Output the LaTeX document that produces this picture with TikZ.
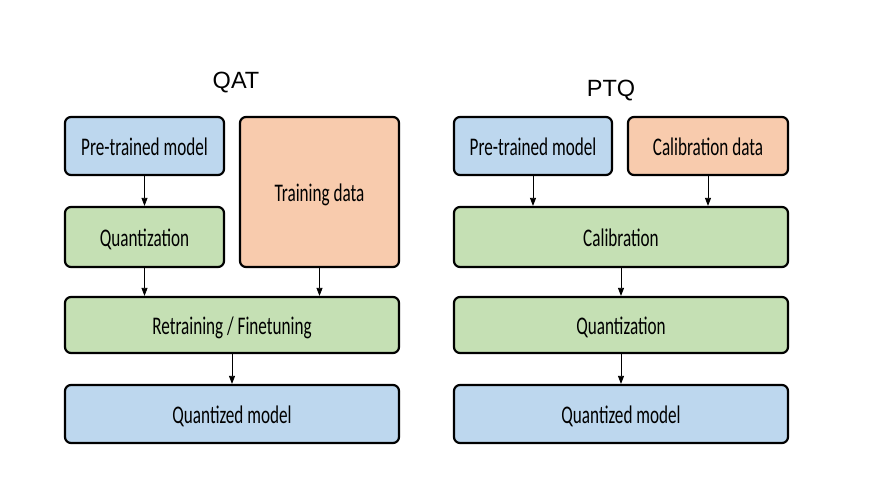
\documentclass[tikz,border=0pt]{standalone}
\usepackage{fontspec}
\setmainfont{Carlito}
\newfontfamily\titlefont{Liberation Sans}
\usetikzlibrary{arrows.meta}
\definecolor{bluefill}{HTML}{BDD7EE}
\definecolor{greenfill}{HTML}{C5E0B4}
\definecolor{orangefill}{HTML}{F8CBAD}
\newcommand{\boxtext}[1]{\raisebox{-9.5pt}[0pt][0pt]{\scalebox{0.98}[1.45]{#1}}}
\begin{document}
\begin{tikzpicture}[x=1pt,y=-1pt,
  blk/.style={draw=black, line width=2.2pt, rounded corners=6pt, inner sep=0pt, font=\fontsize{17.5}{20}\selectfont, text=black},
  bluebox/.style={blk, fill=bluefill},
  greenbox/.style={blk, fill=greenfill},
  orangebox/.style={blk, fill=orangefill},
  arr/.style={-{Triangle[length=8pt,width=6pt]}, line width=0.8pt, black},
  ttl/.style={font=\titlefont\fontsize{23.5}{26}\selectfont}
]
\useasboundingbox (0,0) rectangle (879,493);
% titles
\node[ttl] (qat) at (236,83) {QAT};
\node[ttl] (ptq) at (611,91) {PTQ};
% left column
\node[bluebox, minimum width=159pt, minimum height=58pt] (lpre) at (144.5,146) {\boxtext{Pre-trained model}};
\node[orangebox, minimum width=159pt, minimum height=150pt] (ltrain) at (319.5,192) {\boxtext{Training data}};
\node[greenbox, minimum width=159pt, minimum height=60pt] (lquant) at (144.5,237) {\boxtext{Quantization}};
\node[greenbox, minimum width=334pt, minimum height=56pt] (lretr) at (232,325) {\boxtext{Retraining / Finetuning}};
\node[bluebox, minimum width=334pt, minimum height=58pt] (lqm) at (232,414) {\boxtext{Quantized model}};
% right column
\node[bluebox, minimum width=158pt, minimum height=58pt] (rpre) at (533,146) {\boxtext{Pre-trained model}};
\node[orangebox, minimum width=160pt, minimum height=58pt] (rcal) at (708,146) {\boxtext{Calibration data}};
\node[greenbox, minimum width=334pt, minimum height=60pt] (rcalib) at (621,237) {\boxtext{Calibration}};
\node[greenbox, minimum width=334pt, minimum height=56pt] (rquant) at (621,325) {\boxtext{Quantization}};
\node[bluebox, minimum width=334pt, minimum height=58pt] (rqm) at (621,414) {\boxtext{Quantized model}};
% arrows left
\draw[arr] (lpre.south) -- (lquant.north);
\draw[arr] (lquant.south) -- (lquant.south |- lretr.north);
\draw[arr] (ltrain.south) -- (ltrain.south |- lretr.north);
\draw[arr] (lretr.south) -- (lqm.north);
% arrows right
\draw[arr] (rpre.south) -- (rpre.south |- rcalib.north);
\draw[arr] (rcal.south) -- (rcal.south |- rcalib.north);
\draw[arr] (rcalib.south) -- (rquant.north);
\draw[arr] (rquant.south) -- (rqm.north);
\end{tikzpicture}
\end{document}
